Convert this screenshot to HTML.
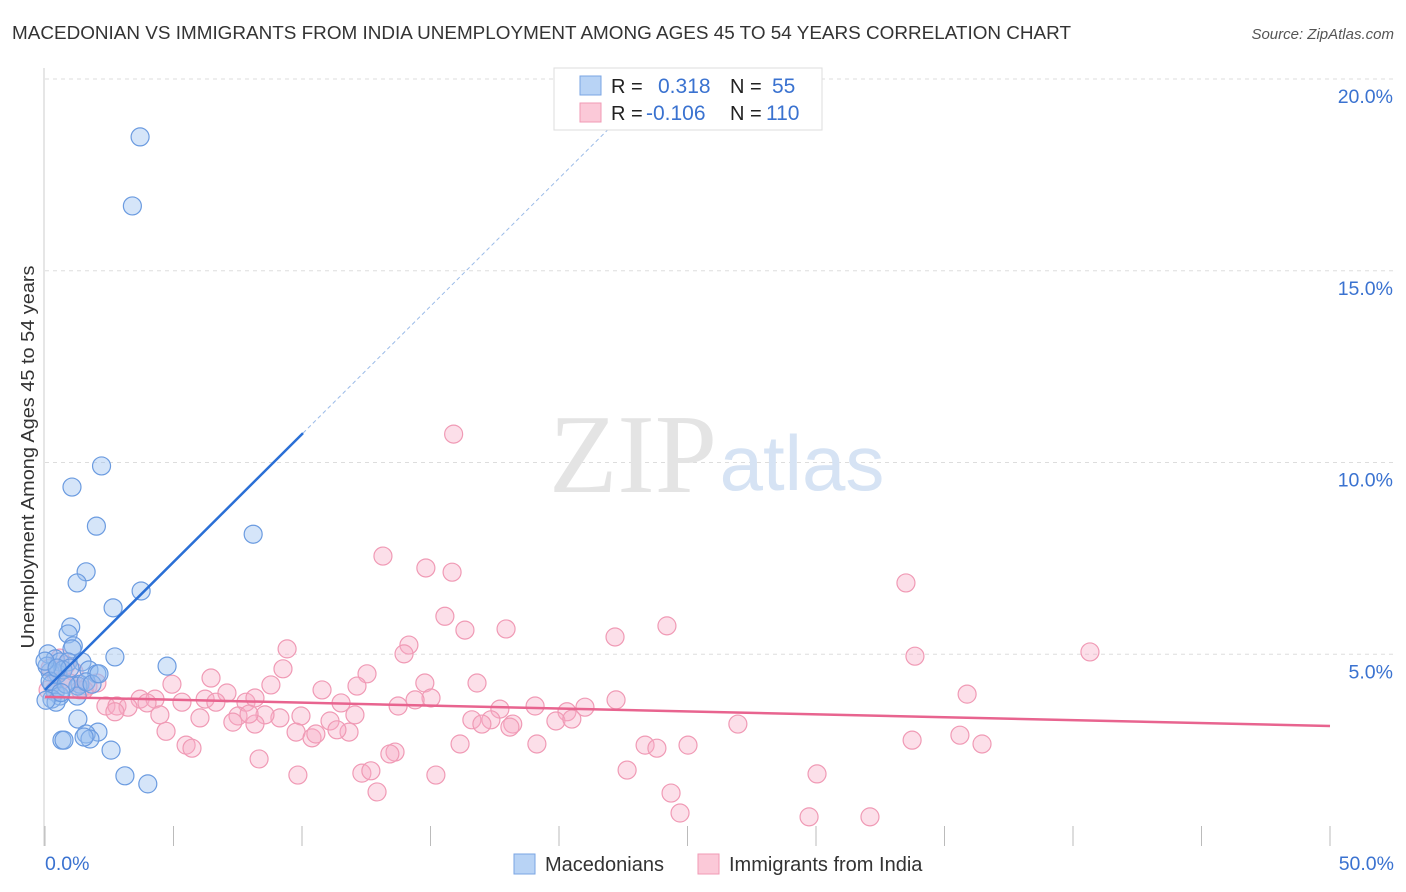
<!DOCTYPE html>
<html><head><meta charset="utf-8"><style>
body{margin:0;background:#fff;font-family:"Liberation Sans",sans-serif;}
svg{display:block}
</style></head><body>
<svg width="1406" height="892" xmlns="http://www.w3.org/2000/svg">
<text x="12" y="39" font-size="18.5" fill="#333" textLength="1059" lengthAdjust="spacingAndGlyphs">MACEDONIAN VS IMMIGRANTS FROM INDIA UNEMPLOYMENT AMONG AGES 45 TO 54 YEARS CORRELATION CHART</text>
<text x="1394" y="39" font-size="15" fill="#555" font-style="italic" text-anchor="end">Source: ZipAtlas.com</text>
<g id="grid"></g>
<text x="633" y="492" font-size="112" fill="#e4e4e4" font-family="Liberation Serif,serif" text-anchor="middle">ZIP</text>
<text x="802" y="490" font-size="78" fill="#d6e3f4" text-anchor="middle">atlas</text>
<line x1="44" y1="68" x2="44" y2="846" stroke="#ccc"/>
<text transform="translate(34,457) rotate(-90)" font-size="18" fill="#333" text-anchor="middle" textLength="383" lengthAdjust="spacingAndGlyphs">Unemployment Among Ages 45 to 54 years</text>
<g id="pts"></g>
<g id="trend"></g>
<g>
<rect x="554" y="68" width="268" height="62" fill="#fff" stroke="#ddd"/>
<rect x="580" y="76" width="21" height="19" fill="#b8d3f5" stroke="#7aa5e3"/>
<rect x="580" y="103" width="21" height="19" fill="#fbc9d8" stroke="#f09ab5"/>
<text x="611" y="93" font-size="20" fill="#222">R =</text><text x="658" y="93" font-size="21" fill="#3a72d0">0.318</text>
<text x="730" y="93" font-size="20" fill="#222">N =</text><text x="772" y="93" font-size="21" fill="#3a72d0">55</text>
<text x="611" y="120" font-size="20" fill="#222">R =</text><text x="646" y="120" font-size="21" fill="#3a72d0">-0.106</text>
<text x="730" y="120" font-size="20" fill="#222">N =</text><text x="766" y="120" font-size="21" fill="#3a72d0">110</text>
</g>
<text x="45" y="870" font-size="19.5" fill="#3a72d0">0.0%</text>
<text x="1394" y="870" font-size="19.5" fill="#3a72d0" text-anchor="end">50.0%</text>
<g>
<rect x="514" y="854" width="21" height="20" fill="#b8d3f5" stroke="#7aa5e3"/>
<text x="545" y="871" font-size="20" fill="#333">Macedonians</text>
<rect x="698" y="854" width="21" height="20" fill="#fbc9d8" stroke="#f09ab5"/>
<text x="729" y="871" font-size="20" fill="#333">Immigrants from India</text>
</g>
</svg>
<script>
const yTicks=[5,10,15,20];
const xTicks=[0,5,10,15,20,25,30,35,40,45,50];
const blueX=[3.7,3.4,2.2,1.05,2.0,8.1,1.6,1.25,3.74,2.65,1.0,0.9,2.72,4.75,1.1,1.05,0.12,0.4,0.58,0.9,0.2,0.5,0.7,1.44,1.71,2.02,1.36,1.28,0.27,0.4,0.58,1.25,0.27,0.43,1.28,2.06,1.6,1.75,1.52,0.66,0.74,2.57,3.11,4.0,0.08,0.2,0.82,1.6,1.83,0.97,0.0,0.47,2.1,0.62,0.04];
const blueY=[18.49,16.69,9.91,9.36,8.34,8.13,7.15,6.86,6.65,6.21,5.71,5.53,4.93,4.69,5.22,5.14,5.01,4.88,4.8,4.8,4.54,4.49,4.59,4.8,4.59,4.49,4.22,4.17,4.22,4.01,3.91,3.91,3.83,3.75,3.31,2.97,2.92,2.79,2.84,2.76,2.76,2.5,1.83,1.62,4.69,4.3,4.22,4.28,4.22,4.64,4.82,4.64,4.49,4.0,3.8];
const pinkX=[15.9,13.15,14.82,15.84,33.5,15.56,16.34,17.94,22.18,24.2,14.16,9.42,13.97,33.85,40.66,9.26,12.53,6.46,4.94,14.78,16.81,10.78,12.14,8.79,35.88,7.08,6.23,6.65,7.82,8.17,3.7,4.28,2.37,2.8,3.23,3.97,5.33,15.02,13.74,14.4,17.7,19.07,21.01,22.22,20.31,11.52,12.06,11.09,9.96,9.14,8.56,7.51,7.31,8.17,7.94,6.03,4.47,2.72,16.61,17.35,17.0,18.2,18.09,19.88,20.5,26.96,4.71,5.49,5.72,9.77,10.39,10.54,11.83,11.36,16.15,19.14,23.35,23.81,25.02,33.74,35.6,36.46,8.33,13.62,13.42,9.84,12.33,12.68,15.21,22.65,30.04,12.92,24.36,24.71,29.73,32.1,0.2,0.43,0.66,0.97,1.36,1.67,2.02,0.58,0.82,1.13,0.39,1.52,0.12];
const pinkY=[10.74,7.56,7.25,7.14,6.86,5.99,5.63,5.66,5.45,5.74,5.24,5.14,5.01,4.95,5.06,4.62,4.49,4.38,4.22,4.25,4.25,4.07,4.17,4.2,3.96,3.99,3.83,3.75,3.75,3.86,3.83,3.83,3.65,3.65,3.62,3.73,3.75,3.86,3.65,3.81,3.57,3.65,3.62,3.81,3.5,3.73,3.42,3.26,3.39,3.34,3.42,3.39,3.23,3.18,3.44,3.34,3.42,3.5,3.29,3.29,3.18,3.18,3.1,3.26,3.31,3.18,2.99,2.63,2.55,2.97,2.82,2.92,2.97,3.03,2.66,2.66,2.63,2.55,2.63,2.76,2.89,2.66,2.27,2.45,2.4,1.85,1.9,1.96,1.85,1.98,1.88,1.41,1.38,0.86,0.76,0.76,4.64,4.46,4.33,4.25,4.07,4.17,4.25,4.9,4.72,4.54,4.07,4.07,4.07];
const blueTrend=[4.07,0.667];
const pinkTrend=[3.89,-0.0152];
const X=v=>45+v*25.7, Y=v=>846-v*38.35;
const NS='http://www.w3.org/2000/svg';
function mk(t,a,p){const e=document.createElementNS(NS,t);for(const k in a)e.setAttribute(k,a[k]);p.appendChild(e);return e;}
const grid=document.getElementById('grid');
yTicks.forEach(t=>{
const l=mk('line',{x1:45,x2:1394,y1:Y(t),y2:Y(t),stroke:'#ddd','stroke-dasharray':'4,4'},grid);


const tx=mk('text',{x:1393,y:Y(t)+24,'font-size':19.5,fill:'#3a72d0','text-anchor':'end','font-family':'Liberation Sans,sans-serif'},grid);
tx.textContent=t.toFixed(1)+'%';


});
xTicks.forEach(t=>{
const l=mk('line',{x1:X(t),x2:X(t),y1:826,y2:846,stroke:'#bbb'},grid);


});
const pts=document.getElementById('pts');
pinkX.forEach((x,i)=>{
const c=mk('circle',{cx:X(x),cy:Y(pinkY[i]),r:9,fill:'rgba(246,172,198,0.38)',stroke:'#f09ab5','stroke-width':1.2},pts);


});
blueX.forEach((x,i)=>{
const c=mk('circle',{cx:X(x),cy:Y(blueY[i]),r:9,fill:'rgba(150,190,240,0.4)',stroke:'#6b9be0','stroke-width':1.2},pts);


});
const tr=document.getElementById('trend');
const bx1=10.04,bx2=(20-blueTrend[0])/blueTrend[1];
const b1=mk('line',{x1:X(0),y1:Y(blueTrend[0]),x2:X(bx1),y2:Y(blueTrend[0]+blueTrend[1]*bx1),stroke:'#2a6fd6','stroke-width':2.5},tr);


const b2=mk('line',{x1:X(bx1),y1:Y(blueTrend[0]+blueTrend[1]*bx1),x2:X(bx2),y2:Y(20),stroke:'#9bbbe8','stroke-width':1,'stroke-dasharray':'4,3'},tr);


const p1=mk('line',{x1:X(0),y1:Y(pinkTrend[0]),x2:X(50),y2:Y(pinkTrend[0]+pinkTrend[1]*50),stroke:'#e8648f','stroke-width':2.5},tr);


</script>
</body></html>
